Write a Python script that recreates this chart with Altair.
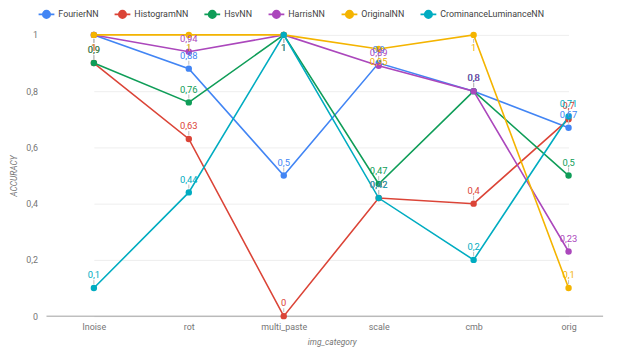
import altair as alt
import pandas as pd

categories = ["lnoise", "rot", "multi_paste", "scale", "cmb", "orig"]
series_names = ["FourierNN", "HistogramNN", "HsvNN", "HarrisNN", "OriginalNN", "CrominanceLuminanceNN"]
fourier = [1, 0.88, 0.5, 0.9, 0.8, 0.67]
histogram = [0.9, 0.63, 0, 0.42, 0.4, 0.7]
hsv = [0.9, 0.76, 1, 0.47, 0.8, 0.5]
harris = [1, 0.94, 1, 0.89, 0.8, 0.23]
original = [1, 1, 1, 0.95, 1, 0.1]
crominance = [0.1, 0.44, 1, 0.42, 0.2, 0.71]
colors = ["#4285F4", "#DB4437", "#0F9D58", "#AB47BC", "#F4B400", "#00ACC1"]

rows = []
for name, vals in zip(series_names, [fourier, histogram, hsv, harris, original, crominance]):
    for c, v in zip(categories, vals):
        rows.append({"img_category": c, "series": name, "value": v,
                     "below": v >= 0.95})
df = pd.DataFrame(rows)

FONT = "Roboto"
x = alt.X("img_category:N", sort=categories,
          scale=alt.Scale(type="point", range=[48, 529], padding=0),
          axis=alt.Axis(title="img_category", titleFontStyle="italic", titleFontSize=8.5,
                        titleColor="#757575", titleFontWeight="normal", titleX=289,
                        titlePadding=6, labelColor="#757575", labelFontSize=9,
                        labelAngle=0, labelPadding=7, ticks=False, domain=False, grid=False))
y = alt.Y("value:Q", scale=alt.Scale(domain=[0, 1], nice=False),
          axis=alt.Axis(title="ACCURACY", titleFontStyle="italic", titleFontSize=8.5,
                        titleColor="#757575", titleFontWeight="normal", titlePadding=7,
                        values=[i / 10 for i in range(11)],
                        labelExpr="(round(datum.value*10) % 2 == 0) ? replace(datum.label, '.', ',') : ''",
                        format="~g", labelColor="#757575", labelFontSize=9, labelPadding=9,
                        ticks=False, domain=False, gridColor="#eeeeee"))
color = alt.Color("series:N", scale=alt.Scale(domain=series_names, range=colors),
                  legend=alt.Legend(title=None, orient="none", direction="horizontal",
                                    legendX=-9, legendY=-30, labelFontSize=9,
                                    labelColor="#424242", labelFont=FONT,
                                    symbolType="M-1,0L1,0M-0.45,0A0.45,0.45,0,1,1,0.45,0A0.45,0.45,0,1,1,-0.45,0",
                                    symbolSize=256, symbolStrokeWidth=2, columnPadding=12,
                                    labelOffset=3))

base = alt.Chart(df)
lines = base.mark_line(strokeWidth=1.6).encode(x=x, y=y, color=color)
points = base.mark_point(filled=True, size=42, opacity=1).encode(
    x=x, y=y, color=alt.Color("series:N", scale=alt.Scale(domain=series_names, range=colors), legend=None))
baseline = alt.Chart(pd.DataFrame({"z": [0]})).mark_rule(color="#9e9e9e", strokeWidth=1).encode(y=alt.Y("z:Q"))

lab = base.transform_calculate(txt="replace(format(datum.value, '~g'), '.', ',')")
above = lab.transform_filter("!datum.below")
below = lab.transform_filter("datum.below")
tcol = alt.Color("series:N", scale=alt.Scale(domain=series_names, range=colors), legend=None)
rule_a = above.mark_rule(color="#bdbdbd", yOffset=-4, y2Offset=-8).encode(x=x, y=y, y2="value:Q")
rule_b = below.mark_rule(color="#bdbdbd", yOffset=4, y2Offset=8).encode(x=x, y=y, y2="value:Q")
text_a = above.mark_text(dy=-13, fontSize=9.5, font=FONT, baseline="middle").encode(
    x=x, y=y, text="txt:N", color=tcol)
text_b = below.mark_text(dy=13, fontSize=9.5, font=FONT, baseline="middle").encode(
    x=x, y=y, text="txt:N", color=tcol)

chart = alt.layer(baseline, lines, points, rule_a, rule_b, text_a, text_b).properties(
    width=564, height=285,
    autosize=alt.AutoSizeParams(type="none"),
    padding={"left": 39, "top": 25, "right": 8, "bottom": 31},
).configure(font=FONT).configure_view(stroke=None)

chart.save("out.html", embed_options={"renderer": "svg", "actions": False})
